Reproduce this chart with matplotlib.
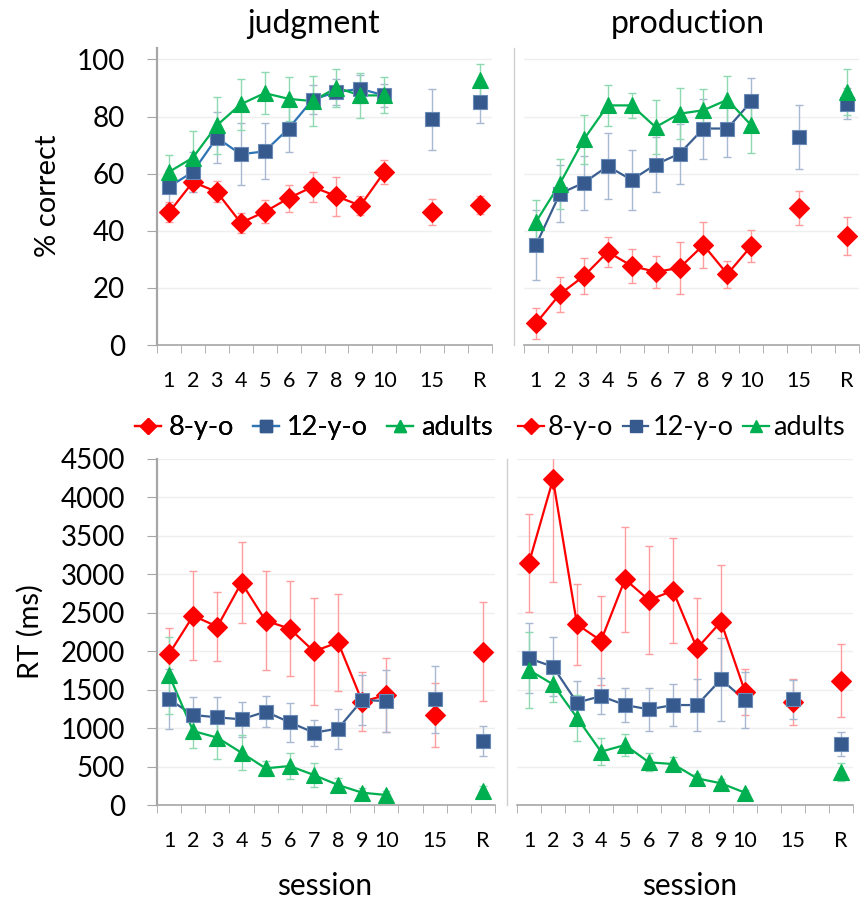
import numpy as np
import matplotlib.pyplot as plt
from matplotlib.lines import Line2D

plt.rcParams['font.family'] = ['Lato', 'DejaVu Sans']

# session categories (positions 11 and 13 are empty slots on the axis)
xpos = [1, 2, 3, 4, 5, 6, 7, 8, 9, 10, 12, 14]
tick_labels = ['1', '2', '3', '4', '5', '6', '7', '8', '9', '10', '', '15', '', 'R']

# % correct, judgment
judg_8 = [46.4, 57.1, 53.6, 42.8, 46.6, 51.4, 55.4, 52.1, 48.8, 60.6, 46.6, 49.0]
judg_8_err = [3.5, 3.5, 3.7, 3.5, 4.0, 4.7, 5.2, 6.8, 3.3, 4.2, 4.5, 3.3]
judg_12 = [55.4, 60.6, 72.6, 66.8, 67.8, 75.8, 85.9, 88.6, 89.7, 87.4, 79.0, 85.1]
judg_12_err = [6.0, 7.0, 9.0, 10.8, 9.8, 8.3, 5.0, 4.5, 5.0, 4.0, 10.8, 7.2]
judg_ad = [60.6, 65.6, 76.9, 84.3, 88.2, 86.2, 85.4, 90.1, 87.4, 87.4, np.nan, 92.9]
judg_ad_err = [6.0, 9.5, 10.0, 9.0, 7.3, 7.7, 8.8, 6.6, 7.8, 6.3, np.nan, 5.6]

# % correct, production
prod_8 = [7.6, 17.8, 24.1, 32.6, 27.7, 25.6, 27.0, 35.0, 24.8, 34.7, 48.0, 38.2]
prod_8_err = [5.4, 6.1, 6.2, 5.2, 5.9, 5.5, 9.2, 8.2, 4.7, 5.5, 5.9, 6.6]
prod_12 = [35.0, 53.0, 56.8, 62.6, 57.8, 63.2, 67.0, 75.8, 75.8, 85.3, 72.8, 84.5]
prod_12_err = [12.1, 10.0, 9.5, 11.6, 10.4, 9.6, 10.5, 10.5, 10.0, 8.2, 11.3, 5.5]
prod_ad = [43.1, 56.5, 72.0, 83.9, 83.9, 76.3, 81.0, 82.2, 85.9, 76.9, np.nan, 88.6]
prod_ad_err = [7.6, 8.8, 8.5, 7.3, 4.5, 9.5, 9.0, 7.5, 8.2, 9.5, np.nan, 8.0]

# RT (ms), judgment
judg_rt_8 = [1964, 2462, 2319, 2891, 2397, 2293, 1998, 2115, 1345, 1430, 1170, 1994]
judg_rt_8_err = [340, 580, 445, 525, 645, 615, 695, 630, 385, 480, 420, 640]
judg_rt_12 = [1374, 1170, 1140, 1114, 1214, 1075, 941, 993, 1365, 1352, 1374, 832]
judg_rt_12_err = [390, 230, 270, 230, 205, 250, 170, 260, 330, 400, 440, 190]
judg_rt_ad = [1690, 962, 876, 680, 477, 507, 390, 260, 160, 130, np.nan, 182]
judg_rt_ad_err = [500, 225, 280, 230, 100, 170, 155, 95, 60, 50, np.nan, 60]

# RT (ms), production
prod_rt_8 = [3151, 4235, 2349, 2137, 2935, 2666, 2787, 2037, 2384, 1474, 1344, 1617]
prod_rt_8_err = [640, 1335, 525, 580, 685, 700, 680, 660, 740, 300, 300, 475]
prod_rt_12 = [1907, 1799, 1331, 1417, 1300, 1244, 1300, 1300, 1634, 1365, 1374, 793]
prod_rt_12_err = [455, 380, 280, 230, 220, 280, 270, 340, 540, 370, 250, 150]
prod_rt_ad = [1756, 1569, 1136, 694, 780, 555, 533, 347, 282, 160, np.nan, 433]
prod_rt_ad_err = [490, 230, 300, 175, 145, 115, 85, 60, 50, 40, np.nan, 115]

RED = '#FF0000'
GREEN = '#00B050'
BLUE_M = '#36598E'
BLUE_L1 = '#2E75B6'
BLUE_L2 = '#3B5E90'
GRAY = '#A6A6A6'
RED_E = '#FF9C9C'
BLUE_E = '#A8B8D2'
GREEN_E = '#8ED9B0'


def draw_series(ax, y, err, color, marker, ms, ecol, lcolor=None, mec=None):
    x = np.array(xpos, dtype=float)
    y = np.array(y, dtype=float)
    err = np.array(err, dtype=float)
    ax.errorbar(x, y, yerr=err, fmt='none', ecolor=ecol, elinewidth=1,
                capsize=3, capthick=1, zorder=2)
    ax.plot(x[:10], y[:10], '-', color=lcolor or color, lw=1.6, zorder=3)
    ax.plot(x, y, linestyle='none', marker=marker, ms=ms, color=color,
            mec=mec or color, mew=0.8, zorder=4)


def style_axes(ax, ylim, yticks, show_y):
    ax.set_xlim(0.5, 14.5)
    ax.set_ylim(*ylim)
    ax.set_xticks(range(1, 15))
    ax.set_xticklabels(tick_labels, fontsize=15.5)
    ax.set_xticks(np.arange(0.5, 15, 1), minor=True)
    ax.tick_params(axis='x', which='major', length=0, pad=19)
    ax.tick_params(axis='x', which='minor', length=6, color=GRAY, direction='out')
    ax.set_yticks(yticks)
    ax.yaxis.grid(True, color='#EFEFEF', lw=1)
    ax.set_axisbelow(True)
    for s in ['top', 'right']:
        ax.spines[s].set_visible(False)
    ax.spines['bottom'].set_color(GRAY)
    ax.spines['left'].set_color(GRAY)
    ax.spines['left'].set_linewidth(1.0)
    ax.spines['bottom'].set_linewidth(1.2)
    if show_y:
        ax.tick_params(axis='y', length=7, color=GRAY, labelsize=20, pad=16)
        ax.spines['left'].set_linewidth(1.6)
    else:
        ax.spines['left'].set_color('#D0D0D0')
        ax.spines['left'].set_position(('outward', 7))
        ax.tick_params(axis='y', length=0, labelleft=False)


fig = plt.figure(figsize=(8.64, 9), dpi=100)
ax1 = fig.add_axes([157 / 864, 1 - 345 / 900, 335 / 864, 297 / 900])
ax2 = fig.add_axes([524 / 864, 1 - 345 / 900, 335 / 864, 297 / 900])
ax3 = fig.add_axes([157 / 864, 95 / 900, 338 / 864, 346 / 900])
ax4 = fig.add_axes([517 / 864, 95 / 900, 336 / 864, 346 / 900])

panels = [
    (ax1, judg_8, judg_8_err, judg_12, judg_12_err, judg_ad, judg_ad_err, BLUE_L1),
    (ax2, prod_8, prod_8_err, prod_12, prod_12_err, prod_ad, prod_ad_err, BLUE_L2),
    (ax3, judg_rt_8, judg_rt_8_err, judg_rt_12, judg_rt_12_err, judg_rt_ad, judg_rt_ad_err, BLUE_L2),
    (ax4, prod_rt_8, prod_rt_8_err, prod_rt_12, prod_rt_12_err, prod_rt_ad, prod_rt_ad_err, BLUE_L2),
]
for ax, r, re, b, be, g, ge, bl in panels:
    draw_series(ax, r, re, RED, 'D', 10, RED_E)
    draw_series(ax, b, be, BLUE_M, 's', 10, BLUE_E, lcolor=bl, mec='#6A8AB8')
    draw_series(ax, g, ge, GREEN, '^', 11, GREEN_E)

style_axes(ax1, (0, 104), range(0, 101, 20), True)
style_axes(ax2, (0, 104), range(0, 101, 20), False)
style_axes(ax3, (0, 4500), range(0, 4501, 500), True)
style_axes(ax4, (0, 4500), range(0, 4501, 500), False)

fig.text(314 / 864, 1 - 24 / 900, 'judgment', fontsize=23, ha='center', va='center')
fig.text(688 / 864, 1 - 24 / 900, 'production', fontsize=23, ha='center', va='center')
fig.text(48 / 864, 1 - 196 / 900, '% correct', fontsize=21, rotation=90, ha='center', va='center')
fig.text(30 / 864, 1 - 632 / 900, 'RT (ms)', fontsize=21, rotation=90, ha='center', va='center')
fig.text(325 / 864, 1 - 886 / 900, 'session', fontsize=21.5, ha='center', va='center')
fig.text(690 / 864, 1 - 886 / 900, 'session', fontsize=21.5, ha='center', va='center')


def handles(blue_line):
    return [Line2D([], [], color=RED, marker='D', ms=8, lw=1.6),
            Line2D([], [], color=blue_line, marker='s', ms=8, lw=1.6,
                   mfc=BLUE_M, mec=BLUE_M),
            Line2D([], [], color=GREEN, marker='^', ms=9, lw=1.6)]


names = ['8-y-o', '12-y-o', 'adults']
leg1 = fig.legend(handles(BLUE_L1), names, loc='center left',
                  bbox_to_anchor=(135 / 864, 1 - 428 / 900), ncol=3, frameon=False,
                  fontsize=19.5, handlelength=0.95, handletextpad=0.3,
                  columnspacing=0.7, borderpad=0, borderaxespad=0)
leg2 = fig.legend(handles(BLUE_L2), names, loc='center left',
                  bbox_to_anchor=(518 / 864, 1 - 428 / 900), ncol=3, frameon=False,
                  fontsize=19.5, handlelength=0.95, handletextpad=0.15,
                  columnspacing=0.35, borderpad=0, borderaxespad=0)
fig.add_artist(leg1)

fig.savefig('out.png', dpi=100)
